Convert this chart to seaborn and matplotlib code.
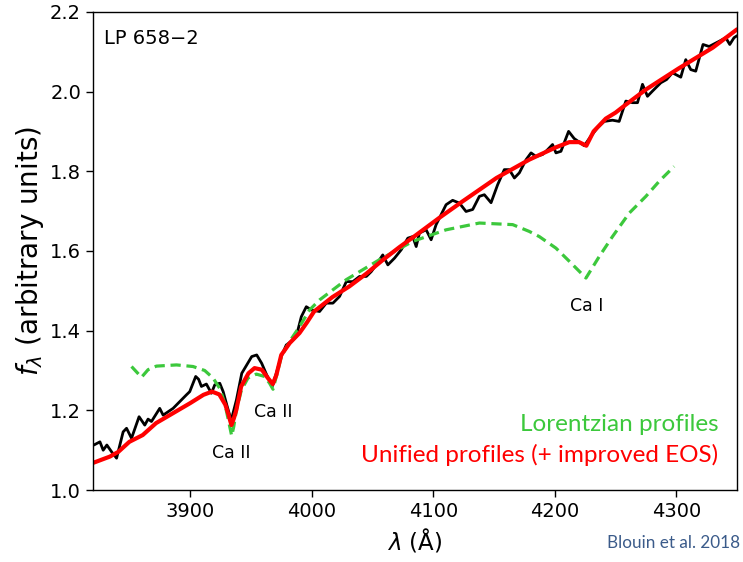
import matplotlib
matplotlib.use("Agg")
import matplotlib.pyplot as plt
import seaborn as sns
import pandas as pd

# Observed spectrum of LP 658-2
obs_wave = [3820.8, 3825.8, 3828.5, 3831.5, 3835.4, 3839.5, 3844.9, 3847.7, 3851.8, 3858.0,
            3862.7, 3865.4, 3868.2, 3875.0, 3877.8, 3886.0, 3891.5, 3897.0, 3899.7, 3904.6,
            3907.0, 3909.3, 3913.4, 3917.5, 3920.3, 3924.4, 3927.2, 3930.5, 3933.8, 3938.1,
            3942.5, 3946.6, 3950.7, 3954.8, 3958.9, 3963.0, 3967.7, 3970.9, 3975.0, 3979.1,
            3983.2, 3987.3, 3991.5, 3995.6, 3999.7, 4006.5, 4012.0, 4017.5, 4023.0, 4028.5,
            4033.9, 4039.4, 4045.0, 4049.0, 4053.1, 4058.5, 4062.7, 4068.2, 4073.7, 4079.1,
            4083.2, 4086.0, 4088.7, 4094.2, 4098.3, 4102.4, 4110.6, 4116.0, 4121.6, 4127.0,
            4132.5, 4138.0, 4142.1, 4147.6, 4153.0, 4158.5, 4162.6, 4166.8, 4170.9, 4176.4,
            4180.5, 4184.6, 4190.0, 4194.1, 4198.2, 4201.0, 4205.1, 4211.4, 4216.0, 4220.2,
            4224.3, 4229.8, 4235.2, 4240.7, 4247.5, 4253.0, 4258.5, 4264.0, 4268.1, 4272.2,
            4276.3, 4280.4, 4287.3, 4292.0, 4296.8, 4303.7, 4307.8, 4311.9, 4316.0, 4322.0,
            4327.0, 4335.3, 4340.7, 4344.0, 4347.5, 4350.0]
obs_flux = [1.113, 1.121, 1.100, 1.113, 1.096, 1.080, 1.146, 1.155, 1.130, 1.184,
            1.163, 1.178, 1.172, 1.205, 1.188, 1.205, 1.222, 1.239, 1.247, 1.285,
            1.278, 1.260, 1.266, 1.243, 1.264, 1.268, 1.247, 1.210, 1.175, 1.226,
            1.293, 1.314, 1.335, 1.339, 1.318, 1.289, 1.261, 1.293, 1.335, 1.364,
            1.373, 1.385, 1.435, 1.460, 1.452, 1.448, 1.469, 1.469, 1.486, 1.523,
            1.523, 1.536, 1.536, 1.548, 1.565, 1.590, 1.565, 1.582, 1.603, 1.632,
            1.636, 1.611, 1.645, 1.653, 1.628, 1.666, 1.716, 1.727, 1.720, 1.699,
            1.704, 1.737, 1.741, 1.721, 1.766, 1.804, 1.804, 1.783, 1.796, 1.829,
            1.846, 1.837, 1.842, 1.854, 1.867, 1.846, 1.850, 1.900, 1.882, 1.873,
            1.864, 1.888, 1.909, 1.925, 1.928, 1.925, 1.976, 1.972, 1.972, 2.018,
            1.988, 2.001, 2.022, 2.030, 2.047, 2.036, 2.080, 2.055, 2.051, 2.118,
            2.113, 2.126, 2.135, 2.118, 2.135, 2.140]

# Model with unified line profiles (+ improved EOS)
uni_wave = [3820, 3834, 3841, 3850, 3861, 3872, 3886, 3900, 3911, 3918,
            3924, 3929, 3931.5, 3934, 3936, 3938, 3942, 3948, 3953, 3959,
            3964, 3968, 3971, 3975, 3982, 3990, 3996, 4002, 4017, 4031,
            4045, 4058, 4072, 4086, 4105, 4124, 4152, 4179, 4201, 4212,
            4220, 4226, 4232, 4242, 4250, 4258, 4275, 4302, 4330, 4350]
uni_flux = [1.068, 1.084, 1.096, 1.121, 1.138, 1.168, 1.193, 1.218, 1.239, 1.247,
            1.240, 1.214, 1.190, 1.163, 1.180, 1.201, 1.260, 1.293, 1.306, 1.302,
            1.281, 1.266, 1.289, 1.339, 1.369, 1.394, 1.420, 1.448, 1.484, 1.511,
            1.543, 1.576, 1.609, 1.640, 1.683, 1.724, 1.783, 1.829, 1.860, 1.873,
            1.873, 1.864, 1.900, 1.932, 1.947, 1.966, 2.005, 2.058, 2.110, 2.156]

# Model with Lorentzian line profiles
lor_wave = [3851.8, 3860.0, 3865.4, 3872.3, 3888.8, 3902.4, 3912.0, 3918.9, 3924.4, 3928.5,
            3932.0, 3934.2, 3935.9, 3938.1, 3942.2, 3947.6, 3954.5, 3961.3, 3965.4, 3968.2,
            3970.9, 3975.1, 3981.9, 3990.0, 3998.3, 4006.5, 4028.5, 4055.8, 4083.2, 4110.6,
            4138.0, 4165.4, 4179.0, 4187.3, 4201.0, 4212.0, 4225.7, 4236.6, 4247.5, 4261.3,
            4275.0, 4286.0, 4298.2]
lor_flux = [1.310, 1.283, 1.302, 1.311, 1.314, 1.310, 1.300, 1.281, 1.255, 1.218,
            1.168, 1.136, 1.159, 1.201, 1.251, 1.281, 1.291, 1.285, 1.268, 1.253,
            1.285, 1.335, 1.373, 1.410, 1.452, 1.477, 1.528, 1.578, 1.624, 1.653,
            1.670, 1.666, 1.649, 1.636, 1.607, 1.574, 1.532, 1.586, 1.636, 1.695,
            1.737, 1.775, 1.812]

obs = pd.DataFrame({"wave": obs_wave, "flux": obs_flux})
uni = pd.DataFrame({"wave": uni_wave, "flux": uni_flux})
lor = pd.DataFrame({"wave": lor_wave, "flux": lor_flux})

x_ticks = [3900, 4000, 4100, 4200, 4300]
y_ticks = [1.0, 1.2, 1.4, 1.6, 1.8, 2.0, 2.2]

sns.set_style("ticks")
plt.rcParams["font.family"] = ["DejaVu Sans"]
plt.rcParams["mathtext.fontset"] = "dejavusans"
plt.rcParams["text.color"] = "black"
plt.rcParams["axes.labelcolor"] = "black"
plt.rcParams["xtick.color"] = "black"
plt.rcParams["ytick.color"] = "black"

fig = plt.figure(figsize=(7.43, 5.62), dpi=100)
ax = fig.add_axes([0.125, 0.128, 0.867, 0.851])

sns.lineplot(data=obs, x="wave", y="flux", ax=ax, color="black", lw=2.0,
             sort=False, estimator=None)
sns.lineplot(data=lor, x="wave", y="flux", ax=ax, color="#3cc83c", lw=2.3,
             sort=False, estimator=None, dashes=False, linestyle=(0, (3.2, 1.8)))
sns.lineplot(data=uni, x="wave", y="flux", ax=ax, color="#ff0000", lw=3.0,
             sort=False, estimator=None)

ax.set_xlim(3820, 4350)
ax.set_ylim(1.0, 2.2)
ax.set_xticks(x_ticks)
ax.set_yticks(y_ticks)
ax.set_yticklabels([f"{v:.1f}" for v in y_ticks])
ax.tick_params(labelsize=14, length=5, width=1, direction="out",
               colors="black", labelcolor="black")
for s in ax.spines.values():
    s.set_visible(True)
    s.set_color("black")
    s.set_linewidth(1.0)

ax.set_xlabel(r"$\lambda$ (Å)", fontsize=16.5, labelpad=4, color="black")
ax.set_ylabel(r"$f_\lambda$ (arbitrary units)", fontsize=20, labelpad=3, color="black")

ax.text(0.018, 0.945, "LP 658\u22122", transform=ax.transAxes, fontsize=14,
        ha="left", va="center", color="black")
ax.text(3933.5, 1.092, "Ca II", fontsize=12.5, ha="center", va="center", color="black")
ax.text(3968.5, 1.195, "Ca II", fontsize=12.5, ha="center", va="center", color="black")
ax.text(4226.5, 1.463, "Ca I", fontsize=12.5, ha="center", va="center", color="black")

ax.text(0.971, 0.137, "Lorentzian profiles", transform=ax.transAxes,
        fontsize=17.5, family=["Lato", "DejaVu Sans"], color="#3cc83c",
        ha="right", va="center")
ax.text(0.971, 0.073, "Unified profiles (+ improved EOS)", transform=ax.transAxes,
        fontsize=17.5, family=["Lato", "DejaVu Sans"], color="#ff0000",
        ha="right", va="center")
fig.text(0.996, 0.034, "Blouin et al. 2018", fontsize=12.3,
         family=["Lato", "DejaVu Sans"], color="#3b5b8a", ha="right", va="center")

fig.savefig("out.png", dpi=100)
